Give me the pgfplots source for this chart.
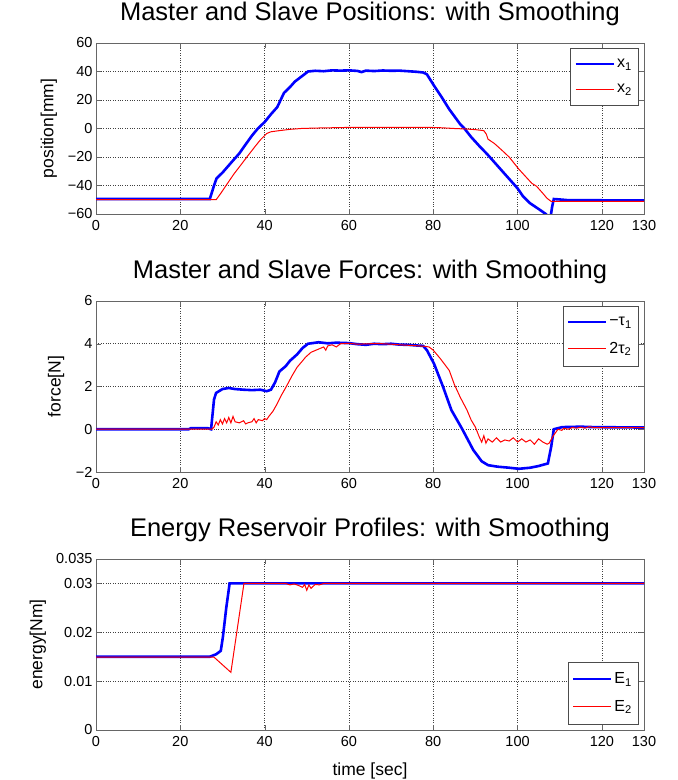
\documentclass[border=0pt]{standalone}
\usepackage{fontspec}
\setmainfont{Liberation Sans}
\usepackage{pgfplots}
\pgfplotsset{compat=1.18}
\definecolor{mblue}{RGB}{0,0,255}
\definecolor{mred}{RGB}{255,0,0}
\pgfplotsset{
  legend image code/.code={\draw[#1] (0pt,0pt) -- (38pt,0pt);},
  mstyle/.style={
  scale only axis, width=548pt, height=171pt, anchor=south west,
  xmin=0, xmax=130, xtick={0,20,40,60,80,100,120,130},
  xticklabels={0,20,40,60,80,100,120,130},
  tick align=inside, tick pos=both, major tick length=5pt,
  grid=major, major grid style={dotted, black!75, line width=0.5pt},
  axis line style={black!60}, tick style={black!60},
  ticklabel style={font=\fontsize{14.5}{16}\selectfont},
  xticklabel style={yshift=-3pt},
  /pgf/number format/assume math mode=true,
  title style={font=\fontsize{25.5}{28}\selectfont, at={(0.5,1)}, anchor=base, yshift=16pt},
  label style={font=\fontsize{17.5}{20}\selectfont},
  legend style={draw=black!70, font=\fontsize{16}{18}\selectfont, row sep=11pt,
    inner xsep=4pt, inner ysep=9pt},
  legend cell align=left,
}}
\begin{document}
\begin{tikzpicture}
\path[use as bounding box] (0,0) rectangle (678pt,780pt);
% ---------------- Top: positions
\begin{axis}[mstyle, at={(96pt,566pt)},
  ymin=-60, ymax=60, ytick={-60,-40,-20,0,20,40,60},
  yticklabels={−60,−40,−20,0,20,40,60},
  title={Master and Slave Positions: with Smoothing},
  ylabel={position[mm]},
  ylabel style={at={(axis description cs:-0.086,0.5)}, anchor=center},
  legend style={at={(0.989,0.971)}, anchor=north east}]
\addplot[mblue, line width=2.6pt] coordinates {
(0,-49.5) (27.0,-49.5) (28.0,-40) (28.6,-35) (30,-31) (32.2,-23.5) (34,-17.5) (35.3,-12)
(37,-5) (38.4,0) (40,4.5) (41.5,10) (43,15) (44.6,25) (46,29) (47.2,33) (49,37) (50.3,40)
(52,40.5) (54,40.2) (56,40.8) (58,40.6) (60,40.8) (62,40.4) (63,39.6) (64,40.6) (66,40.3)
(68,40.7) (70,40.5) (72,40.6) (74,40.2) (76,39.8) (77.6,39.3) (78.5,38) (80.2,30) (82,22)
(83.8,13.5) (86.4,3) (87.4,0) (89,-6) (91,-12.5) (92.8,-18) (94.6,-24) (96.4,-30) (98.2,-36)
(100,-42) (101.3,-47.6) (102.9,-52.3) (104,-54.5) (105.5,-57.5) (106.7,-60) (107,-61)
(107.8,-63) (108.2,-55) (108.6,-49.5) (110,-49.8) (112,-50.3) (130,-50.5)};
\addplot[mred, line width=1pt] coordinates {
(0,-50) (28.5,-50) (29.6,-45.5) (31.2,-38.5) (32.7,-32) (34,-27) (35.8,-20) (37.9,-12)
(39,-8) (40.5,-3.5) (41.5,-2.3) (43.5,-1.5) (46,-0.6) (48.7,0) (52,0.3) (59,0.7) (70,0.7)
(80,0.7) (82,0.5) (85,0) (88,-0.4) (90,-0.8) (92,-1.5) (92.6,-4) (93,-7.5) (94.5,-10.5)
(96.2,-15) (98,-20) (100.3,-28.5) (102,-34) (103.4,-38.5) (104.5,-40.5) (106,-45.5)
(107,-49) (108,-51.2) (130,-51.2)};
\legend{x\textsubscript{1}, x\textsubscript{2}}
\end{axis}
% ---------------- Middle: forces
\begin{axis}[mstyle, at={(96pt,308pt)},
  ymin=-2, ymax=6, ytick={-2,0,2,4,6},
  yticklabels={−2,0,2,4,6},
  title={Master and Slave Forces: with Smoothing},
  ylabel={force[N]},
  ylabel style={at={(axis description cs:-0.073,0.5)}, anchor=center},
  legend style={at={(0.989,0.971)}, anchor=north east}]
\addplot[mblue, line width=2.6pt] coordinates {
(0,0) (22,0) (22.5,0.05) (26.5,0.05) (27.3,0) (28.0,1.4) (28.5,1.7) (30,1.88) (31.5,1.93)
(33,1.88) (35,1.85) (37,1.83) (39,1.85) (40.5,1.78) (41.5,1.85) (42.5,2.2) (43.5,2.7)
(45,2.95) (46,3.2) (47.7,3.5) (49,3.8) (50.3,4.0) (52.8,4.07) (55,4.02) (57,4.05) (60,4.03)
(62,3.98) (64,3.95) (66,4.0) (68,3.98) (70,4.0) (72,3.96) (74,3.95) (76,3.92) (77.6,3.9)
(78.5,3.7) (80.2,3.06) (82.3,2.0) (84.3,0.9) (86.9,0) (89.5,-0.97) (91.5,-1.5) (93,-1.68)
(95.2,-1.75) (98,-1.8) (100.3,-1.85) (103,-1.8) (105,-1.72) (107.2,-1.6) (108,-0.8)
(108.6,0) (110.6,0.1) (115,0.12) (118,0.1) (130,0.08)};
\addplot[mred, line width=1pt] coordinates {
(0,0) (27.5,0) (28,0.1) (28.5,0.35) (29,0.2) (29.5,0.45) (30,0.25) (30.5,0.5) (31,0.3)
(31.5,0.55) (32,0.3) (32.5,0.6) (33,0.35) (34,0.3) (35,0.4) (35.5,0.25) (36,0.3) (37,0.35)
(37.5,0.5) (38,0.3) (38.5,0.45) (39.5,0.4) (40,0.5) (40.5,0.45) (41,0.6) (42,0.85) (43,1.2)
(44,1.6) (45.1,1.98) (46.5,2.5) (47.7,2.9) (49,3.2) (49.7,3.37) (51,3.6) (52.8,3.75)
(54,3.85) (54.5,3.7) (55,3.9) (56,3.95) (57,3.85) (58,4.0) (60,4.02) (62,3.98) (65,4.0)
(68,4.0) (70,3.98) (72,3.95) (75,3.92) (78,3.88) (79,3.85) (80,3.7) (81.7,3.3) (83.8,2.75)
(85,2.1) (86.4,1.5) (88,0.9) (89,0.43) (90,0.1) (91,-0.4) (91.5,-0.6) (92,-0.3) (92.5,-0.65)
(93,-0.45) (94,-0.6) (95,-0.4) (96,-0.6) (97,-0.5) (98,-0.55) (99,-0.4) (100,-0.6)
(101,-0.45) (102,-0.6) (103,-0.5) (104,-0.7) (105,-0.45) (106,-0.6) (107,-0.7) (107.5,-0.65)
(108.5,-0.3) (109.6,0) (110.5,-0.05) (111,0.05) (112,0) (113,0.08) (114,0.05) (115,0.1)
(116,0.05) (117,0.12) (118,0.08) (130,0.08)};
\legend{−τ\textsubscript{1}, 2τ\textsubscript{2}}
\end{axis}
% ---------------- Bottom: energy
\begin{axis}[mstyle, at={(96pt,50pt)},
  ymin=0, ymax=0.035, ytick={0,0.01,0.02,0.03,0.035},
  yticklabels={0,0.01,0.02,0.03,0.035}, scaled y ticks=false,
  title={Energy Reservoir Profiles: with Smoothing},
  ylabel={energy[Nm]}, xlabel={time [sec]},
  ylabel style={at={(axis description cs:-0.106,0.5)}, anchor=center},
  xlabel style={at={(axis description cs:0.5,0)}, anchor=base, yshift=-45pt},
  legend style={at={(0.989,0.035)}, anchor=south east}]
\addplot[mblue, line width=2.6pt] coordinates {
(0,0.015) (27,0.015) (28.5,0.0155) (29.6,0.0162) (30.1,0.019) (30.9,0.025) (31.7,0.030)
(130,0.030)};
\addplot[mred, line width=1pt] coordinates {
(0,0.0149) (28,0.0149) (32,0.0118) (35.1,0.030) (45,0.030) (46,0.0297) (47,0.0299)
(48,0.0296) (49,0.0292) (49.5,0.0298) (50,0.0286) (50.5,0.0297) (51,0.029) (52,0.0298)
(53,0.0297) (54,0.030) (130,0.030)};
\legend{E\textsubscript{1}, E\textsubscript{2}}
\end{axis}
\end{tikzpicture}
\end{document}
